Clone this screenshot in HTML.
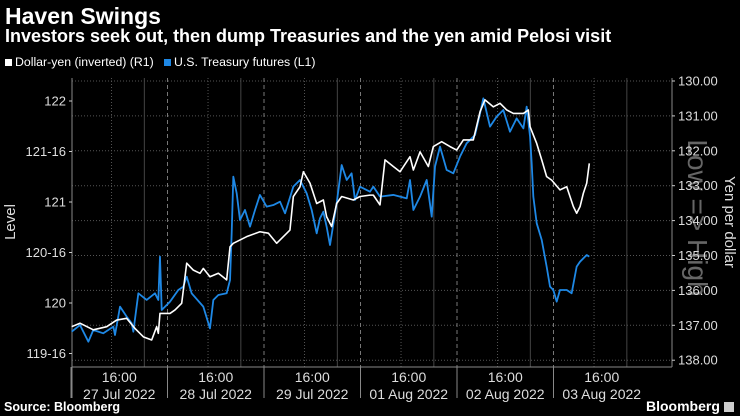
<!DOCTYPE html>
<html><head><meta charset="utf-8"><style>
html,body{margin:0;padding:0;background:#000;}
body{width:740px;height:416px;overflow:hidden;font-family:"Liberation Sans",sans-serif;color:#fff;position:relative;}
.t{position:absolute;white-space:nowrap;}
</style></head><body>
<div class="t" style="left:5px;top:3px;font-size:23px;font-weight:bold;">Haven Swings</div>
<div class="t" style="left:5px;top:26px;font-size:18px;font-weight:bold;">Investors seek out, then dump Treasuries and the yen amid Pelosi visit</div>
<div class="t" style="left:5px;top:55px;font-size:12.3px;"><span style="display:inline-block;width:7px;height:7px;background:#fff;margin-right:3px;"></span>Dollar-yen (inverted) (R1)</div>
<div class="t" style="left:164px;top:55px;font-size:12.3px;"><span style="display:inline-block;width:7px;height:7px;background:#1e88e5;margin-right:3px;"></span>U.S. Treasury futures (L1)</div>
<div class="t" style="left:4px;top:400px;font-size:12.5px;font-weight:bold;">Source: Bloomberg</div>
<div class="t" style="left:646px;top:398px;font-size:14px;font-weight:bold;">Bloomberg <span style="display:inline-block;width:10px;height:10px;background:#ccc;vertical-align:-1px;"></span></div>
<svg id="chart" width="740" height="416" style="position:absolute;left:0;top:0;"></svg>
<script>
const blueT=[0.007,0.093,0.18,0.231,0.335,0.439,0.456,0.508,0.577,0.629,0.646,0.698,0.784,0.87,0.905,0.922,0.94,1.026,1.112,1.164,1.199,1.25,1.371,1.44,1.475,1.527,1.613,1.648,1.665,1.682,1.717,1.751,1.803,1.855,1.907,1.958,2.028,2.097,2.166,2.218,2.304,2.373,2.442,2.494,2.546,2.58,2.615,2.649,2.684,2.753,2.805,2.857,2.908,2.943,2.995,3.098,3.133,3.202,3.34,3.479,3.513,3.548,3.617,3.686,3.738,3.772,3.824,3.893,3.962,4.031,4.1,4.187,4.239,4.273,4.342,4.411,4.48,4.549,4.618,4.688,4.722,4.757,4.774,4.791,4.826,4.878,4.929,4.964,4.998,5.033,5.067,5.137,5.188,5.24,5.275,5.344,5.371];
const blueV=[119.716,119.782,119.617,119.733,119.7,119.766,119.683,119.964,119.865,119.799,119.716,120.096,120.03,120.096,120.03,120.459,119.931,120.013,120.129,120.162,120.261,120.096,119.964,119.749,120.03,120.079,120.096,120.228,120.69,121.251,121.086,120.822,120.921,120.756,120.921,121.07,120.954,120.97,121.003,120.888,121.152,121.218,121.086,120.921,120.69,120.838,120.904,120.756,120.574,120.987,121.366,121.218,121.284,121.02,121.152,121.102,121.152,121.053,121.07,121.036,121.218,120.921,121.053,121.218,120.855,121.35,121.548,121.317,121.284,121.449,121.581,121.663,121.878,122.026,121.746,121.845,121.911,121.696,121.828,121.729,121.944,121.647,121.383,121.053,120.789,120.624,120.36,120.162,120.129,120.013,120.129,120.129,120.096,120.36,120.409,120.475,120.459];
const yenT=[0.007,0.093,0.231,0.37,0.473,0.577,0.663,0.75,0.836,0.888,0.905,0.922,1.026,1.078,1.147,1.199,1.268,1.337,1.371,1.44,1.527,1.613,1.648,1.682,1.82,1.958,2.045,2.131,2.2,2.269,2.304,2.373,2.408,2.477,2.546,2.615,2.649,2.701,2.753,2.805,2.926,2.995,3.098,3.133,3.202,3.254,3.34,3.41,3.513,3.548,3.617,3.703,3.755,3.841,3.928,3.997,4.066,4.169,4.239,4.29,4.377,4.446,4.515,4.584,4.688,4.739,4.757,4.826,4.878,4.929,4.981,5.067,5.137,5.206,5.24,5.275,5.309,5.344,5.371];
const yenV=[137.04,136.94,137.13,137.04,136.85,136.8,137.09,137.33,137.42,137.04,137.23,136.66,136.66,136.56,136.37,135.22,135.42,135.51,135.37,135.61,135.51,135.7,134.75,134.65,134.46,134.32,134.36,134.65,134.46,134.27,133.31,133.03,132.6,132.93,133.51,133.41,133.89,134.17,133.51,133.31,133.41,133.31,133.27,133.27,133.55,132.26,132.45,132.6,132.17,132.55,132.03,132.45,131.88,131.74,131.88,131.98,131.69,131.69,130.88,130.54,130.74,130.64,130.83,130.93,130.93,130.83,131.31,131.79,132.26,132.74,132.84,133.12,133.03,133.6,133.79,133.6,133.22,132.93,132.36];
const leftTicks=[122,121.5,121,120.5,120,119.5];
const leftLabels=["122","121-16","121","120-16","120","119-16"];
const rightTicks=[130,131,132,133,134,135,136,137,138];
const dayLabels=["27 Jul 2022","28 Jul 2022","29 Jul 2022","01 Aug 2022","02 Aug 2022","03 Aug 2022"];

const X0=72,X1=672,Y0=78,Y1=367;
const DAYW=96.5, XS=71;
const x=t=>XS+t*DAYW;
const yL=v=>101+(122-v)*101;
const yR=v=>81+(v-130)*34.9;
const svg=document.getElementById('chart');
const NS='http://www.w3.org/2000/svg';
function mk(tag,attrs,parent){const e=document.createElementNS(NS,tag);for(const k in attrs)e.setAttribute(k,attrs[k]);(parent||svg).appendChild(e);return e;}

rightTicks.forEach(v=>{
  const l=mk('line',{x1:X0,x2:X1,y1:yR(v),y2:yR(v),stroke:'#555','stroke-dasharray':'1,2'});
  
  
});
for(let d=0;d<6;d++){
  const l=mk('line',{x1:x(d+0.42),x2:x(d+0.42),y1:Y0,y2:Y1,stroke:'#555','stroke-dasharray':'1,2'});
  
  
  const s=mk('line',{x1:x(d+0.76),x2:x(d+0.76),y1:Y0,y2:Y1,stroke:'#444'});
  
  
  if(d>0){
    const b=mk('line',{x1:x(d),x2:x(d),y1:Y0,y2:Y1,stroke:'#777','stroke-dasharray':'4,3'});
    
    
  }
  const sep=mk('line',{x1:x(d),x2:x(d),y1:Y1,y2:398,stroke:'#888'});
  
  
  const t1=mk('text',{x:x(d+0.5),y:382,fill:'#ddd','font-size':'14','text-anchor':'middle','font-family':'Liberation Sans'});
  t1.textContent='16:00';
  
  
  const t2=mk('text',{x:x(d+0.5),y:399,fill:'#ddd','font-size':'14','text-anchor':'middle','font-family':'Liberation Sans'});
  t2.textContent=dayLabels[d];
  
  
}
const bx=mk('line',{x1:X0,x2:X1,y1:Y1,y2:Y1,stroke:'#888'});


const la=mk('line',{x1:X0,x2:X0,y1:Y0,y2:398,stroke:'#888'});


const ra=mk('line',{x1:X1,x2:X1,y1:Y0,y2:Y1,stroke:'#888'});


leftTicks.forEach((v,i)=>{
  mk('line',{x1:X0-3,x2:X0,y1:yL(v),y2:yL(v),stroke:'#ccc'});
  const t=mk('text',{x:X0-6,y:yL(v)+4.5,fill:'#ddd','font-size':'13','text-anchor':'end','font-family':'Liberation Sans'});
  t.textContent=leftLabels[i];
  
  
});
const low=mk('text',{x:0,y:0,fill:'#666','font-size':'28','text-anchor':'middle','font-family':'Liberation Sans',transform:'translate(688,218) rotate(90)'});
low.textContent='Low => High';


rightTicks.forEach(v=>{
  mk('line',{x1:X1,x2:X1+3,y1:yR(v),y2:yR(v),stroke:'#ccc'});
  const t=mk('text',{x:X1+6,y:yR(v)+4.5,fill:'#ddd','font-size':'13','font-family':'Liberation Sans'});
  t.textContent=v.toFixed(2);
  
  
});
const yl=mk('text',{x:0,y:0,fill:'#ddd','font-size':'15','text-anchor':'middle','font-family':'Liberation Sans',transform:'translate(15,222) rotate(-90)'});
yl.textContent='Level';


const yr=mk('text',{x:0,y:0,fill:'#ddd','font-size':'15','text-anchor':'middle','font-family':'Liberation Sans',transform:'translate(725,222) rotate(90)'});
yr.textContent='Yen per dollar';


const pb=mk('polyline',{points:blueT.map((t,i)=>x(t)+','+yL(blueV[i])).join(' '),fill:'none',stroke:'#1e88e5','stroke-width':'1.8','stroke-linejoin':'round'});


const pw=mk('polyline',{points:yenT.map((t,i)=>x(t)+','+yR(yenV[i])).join(' '),fill:'none',stroke:'#fff','stroke-width':'1.6','stroke-linejoin':'round'});


</script>
</body></html>
